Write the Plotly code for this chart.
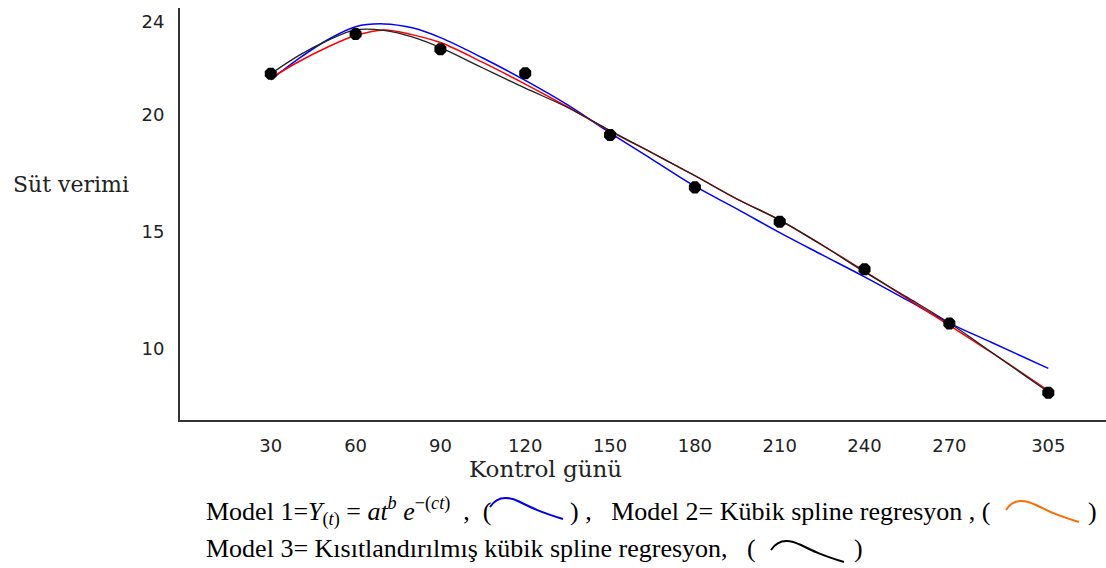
import plotly.graph_objects as go

# ---- data ----
test_days = [30, 60, 90, 120, 150, 180, 210, 240, 270, 305]
observed = [21.76, 23.47, 22.81, 21.79, 19.14, 16.90, 15.43, 13.39, 11.07, 8.11]
x_tick_labels = ["30", "60", "90", "120", "150", "180", "210", "240", "270", "305"]

curve_days = [30, 40, 50, 60, 70, 80, 90, 105, 120, 135, 150, 165, 180, 195,
              210, 225, 240, 255, 270, 285, 305]
model1_wood = [21.50, 22.42, 23.21, 23.78, 23.90, 23.73, 23.31, 22.44, 21.48, 20.43,
               19.23, 18.09, 16.95, 15.97, 14.96, 14.01, 13.07, 12.08, 11.09, 10.26, 9.15]
model2_spline = [21.58, 22.29, 22.90, 23.40, 23.64, 23.44, 23.10, 22.25, 21.32, 20.34,
                 19.31, 18.37, 17.40, 16.40, 15.50, 14.43, 13.31, 12.15, 10.99, 9.82, 8.20]
model3_rcs = [21.76, 22.55, 23.18, 23.64, 23.62, 23.34, 22.88, 22.01, 21.15, 20.32,
              19.33, 18.37, 17.40, 16.39, 15.50, 14.43, 13.28, 12.20, 11.09, 9.83, 8.14]
y_tick_vals = [10, 15, 20, 24]

W, H = 1106, 568
L, R, T, B = 180, 0, 8, 148
PW, PH = W - L - R, H - T - B


def px(p):
    return (p - L) / PW


def py(q):
    return (H - B - q) / PH


fig = go.Figure()
fig.add_trace(go.Scatter(x=curve_days, y=model1_wood, mode="lines", line=dict(color="#0000FF", width=1.5, shape="spline"), name="Model 1"))
fig.add_trace(go.Scatter(x=curve_days, y=model2_spline, mode="lines", line=dict(color="#FF0000", width=1.5, shape="spline"), name="Model 2"))
fig.add_trace(go.Scatter(x=curve_days, y=model3_rcs, mode="lines", line=dict(color="#222222", width=1.3, shape="spline"), name="Model 3"))
fig.add_trace(go.Scatter(x=test_days, y=observed, mode="markers", marker=dict(color="black", size=13, symbol="octagon"), name="Gözlenen"))

tickfont = dict(family="DejaVu Sans", size=18, color="#222222")
fig.update_layout(
    template="none",
    width=W, height=H, margin=dict(l=L, r=R, t=T, b=B, autoexpand=False),
    plot_bgcolor="white", paper_bgcolor="white", showlegend=False,
    xaxis=dict(range=[-2.1, 325.4], tickvals=test_days, ticktext=x_tick_labels,
               showline=True, linecolor="#333333", linewidth=2, showgrid=False,
               zeroline=False, ticks="", tickfont=tickfont, ticklabelstandoff=8,
               automargin=False),
    yaxis=dict(range=[6.94, 24.58], tickvals=y_tick_vals, ticktext=[str(v) for v in y_tick_vals],
               showline=True, linecolor="#333333", linewidth=2, showgrid=False,
               zeroline=False, ticks="", tickfont=tickfont, ticklabelstandoff=10,
               automargin=False),
)

serif_axis = dict(family="DejaVu Serif", size=22, color="#222222")
fig.add_annotation(text="Süt verimi", x=px(71), y=py(184), xref="paper", yref="paper",
                   showarrow=False, xanchor="center", yanchor="middle", font=serif_axis)
fig.add_annotation(text="Kontrol günü", x=px(545), y=py(469), xref="paper", yref="paper",
                   showarrow=False, xanchor="center", yanchor="middle",
                   font=dict(family="DejaVu Serif", size=23, color="#222222"))

legfont = dict(family="Liberation Serif", size=26, color="black")
line1_y, line2_y = 512, 548
pieces = [
    ("Model 1=<i>Y</i><sub>(<i>t</i>)</sub> = <i>at</i><sup><i>b</i></sup> <i>e</i><sup>−(<i>ct</i>)</sup>  ,  (", 204, line1_y),
    (") ,   Model 2= Kübik spline regresyon , (", 568, line1_y),
    (")", 1086, line1_y),
    ("Model 3= Kısıtlandırılmış kübik spline regresyon,   (", 204, line2_y),
    (")", 852, line2_y),
]
for txt, xl, yc in pieces:
    fig.add_annotation(text=txt, x=px(xl), y=py(yc), xref="paper", yref="paper",
                       showarrow=False, xanchor="left", yanchor="middle", font=legfont)


def icon(x0, y0, col):
    pts = [(x0, y0 + 5), (x0 + 7, y0 - 6), (x0 + 18, y0 - 6), (x0 + 30, y0), (x0 + 50, y0 + 10), (x0 + 73, y0 + 17)]
    p = "M {} {} C {} {}, {} {}, {} {} S {} {}, {} {}".format(
        px(pts[0][0]), py(pts[0][1]), px(pts[1][0]), py(pts[1][1]), px(pts[2][0]), py(pts[2][1]),
        px(pts[3][0]), py(pts[3][1]), px(pts[4][0]), py(pts[4][1]), px(pts[5][0]), py(pts[5][1]))
    fig.add_shape(type="path", path=p, xref="paper", yref="paper", line=dict(color=col, width=2))


icon(490, 502, "#0000EE")
icon(1006, 505, "#FF6A00")
icon(771, 545, "#000000")

fig.write_html("out.html", config={"displayModeBar": False},
               post_script="document.body.style.margin='0px';document.body.style.overflow='hidden';")
